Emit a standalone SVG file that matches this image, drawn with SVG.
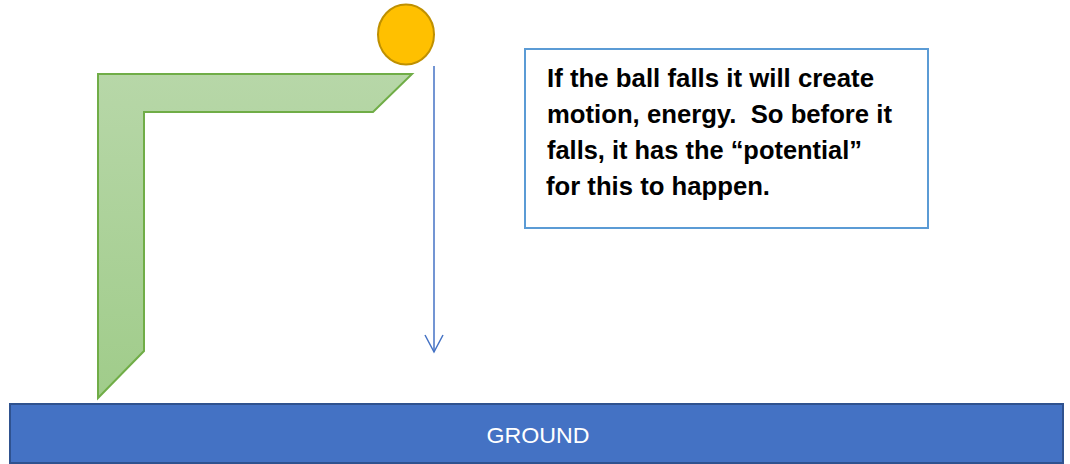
<svg xmlns="http://www.w3.org/2000/svg" width="1070" height="464" viewBox="0 0 1070 464">
  <defs>
    <linearGradient id="greenGrad" x1="0" y1="0" x2="0" y2="1">
      <stop offset="0" stop-color="#B7D7A8"/>
      <stop offset="1" stop-color="#A0CC8A"/>
    </linearGradient>
    <marker id="openArrow" viewBox="0 0 20 20" refX="18" refY="10" markerWidth="20" markerHeight="20" markerUnits="userSpaceOnUse" orient="auto">
      <path d="M1,1 L18,10 L1,19" fill="none" stroke="#4472C4" stroke-width="1.5"/>
    </marker>
    <style>
      .body { font-family: "Liberation Sans", Arial, sans-serif; font-weight: bold; font-size: 25px; fill: #000; white-space: pre; }
      .ground { font-family: "Liberation Sans", Arial, sans-serif; font-size: 22px; fill: #FFFFFF; }
    </style>
  </defs>
  <rect width="1070" height="464" fill="#FFFFFF"/>

  <g id="stand">
    <polygon points="98,74 412,74 373,112 144,112 144,351 98,398" fill="url(#greenGrad)" stroke="#70AD47" stroke-width="2" stroke-linejoin="miter"/>
  </g>

  <g id="ball">
    <ellipse cx="406" cy="34.5" rx="28" ry="30" fill="#FFC000" stroke="#BF9000" stroke-width="2"/>
  </g>

  <g id="connectors">
    <line x1="434" y1="66" x2="434" y2="352" stroke="#4472C4" stroke-width="1.5" marker-end="url(#openArrow)"/>
  </g>

  <g id="textbox">
    <rect x="525" y="49" width="403" height="179" fill="#FFFFFF" stroke="#5B9BD5" stroke-width="2"/>
    <text class="body" x="547" y="87" textLength="327" lengthAdjust="spacingAndGlyphs">If the ball falls it will create</text>
    <text class="body" x="547" y="123" textLength="345" lengthAdjust="spacingAndGlyphs">motion, energy.  So before it</text>
    <text class="body" x="547" y="159" textLength="315" lengthAdjust="spacingAndGlyphs">falls, it has the “potential”</text>
    <text class="body" x="546" y="195" textLength="224" lengthAdjust="spacingAndGlyphs">for this to happen.</text>
  </g>

  <g id="ground">
    <rect x="10" y="404" width="1053" height="59" fill="#4472C4" stroke="#2F528F" stroke-width="2"/>
    <text class="ground" x="538" y="443" text-anchor="middle" textLength="103" lengthAdjust="spacingAndGlyphs">GROUND</text>
  </g>
</svg>
